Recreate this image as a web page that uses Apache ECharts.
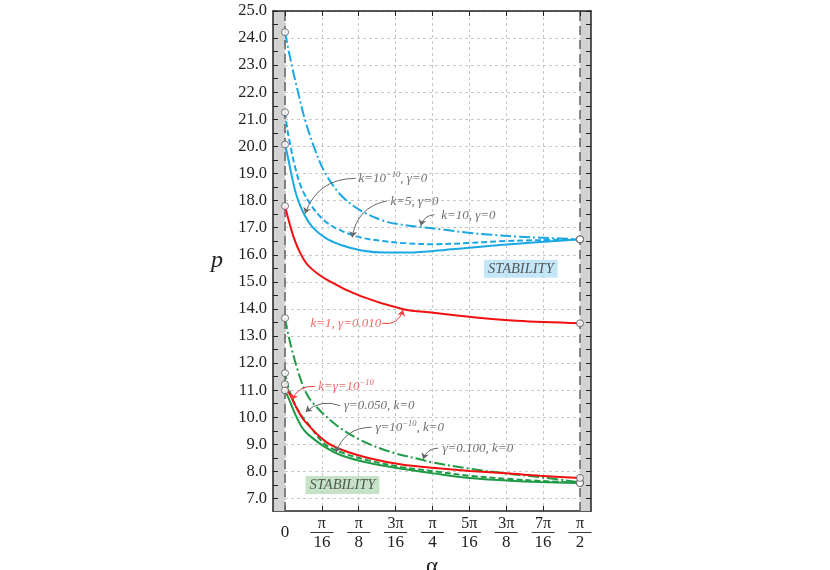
<!DOCTYPE html>
<html><head><meta charset="utf-8">
<script src="https://cdn.jsdelivr.net/npm/echarts@6/dist/echarts.min.js"></script>
<style>html,body{margin:0;padding:0;background:#fff}#c{width:830px;height:570px}</style>
</head><body><div id="c"></div>
<script>
const PI = Math.PI;
// ---------- data (alpha in radians, p values) ----------
const aCyanDD = [0, 0.031, 0.062, 0.106, 0.156, 0.213, 0.302, 0.408, 0.532, 0.63, 0.72, 0.85, 0.967, 1.1, 1.234, 1.4, PI/2];
const pCyanDD = [24.22, 23.15, 22.22, 21.0, 19.95, 19.03, 18.17, 17.61, 17.24, 17.1, 17.03, 16.92, 16.82, 16.74, 16.67, 16.62, 16.57];
const aCyanDash = [0, 0.013, 0.027, 0.053, 0.089, 0.142, 0.213, 0.302, 0.408, 0.532, 0.63, 0.79, 0.967, 1.145, 1.358, PI/2];
const pCyanDash = [21.26, 20.6, 20.1, 19.25, 18.45, 17.8, 17.24, 16.88, 16.63, 16.5, 16.43, 16.39, 16.43, 16.5, 16.54, 16.57];
const aCyanSolid = [0, 0.018, 0.036, 0.062, 0.098, 0.142, 0.213, 0.302, 0.408, 0.532, 0.63, 0.79, 0.967, 1.145, 1.358, PI/2];
const pCyanSolid = [20.07, 19.52, 18.9, 18.17, 17.55, 17.06, 16.63, 16.35, 16.16, 16.08, 16.08, 16.14, 16.25, 16.36, 16.47, 16.57];
const aRedHigh = [0, 0.018, 0.044, 0.08, 0.124, 0.222, 0.4, 0.63, 0.79, 0.967, 1.234, PI/2];
const pRedHigh = [17.8, 17.31, 16.69, 16.08, 15.6, 15.08, 14.48, 13.99, 13.86, 13.72, 13.56, 13.47];
const aGreenDD = [0, 0.027, 0.071, 0.106, 0.142, 0.266, 0.408, 0.568, 0.728, 0.772, 0.985, 1.198, 1.358, PI/2];
const pGreenDD = [13.66, 12.76, 11.66, 11.0, 10.58, 9.75, 9.14, 8.71, 8.43, 8.35, 8.1, 7.91, 7.79, 7.6];
const aGreenDash = [0, 0.018, 0.044, 0.089, 0.124, 0.213, 0.302, 0.444, 0.621, 0.799, 0.985, 1.198, 1.358, PI/2];
const pGreenDash = [11.63, 11.1, 10.6, 10.05, 9.75, 9.0, 8.7, 8.41, 8.16, 8.0, 7.84, 7.72, 7.65, 7.58];
const aRedLow = [0, 0.018, 0.036, 0.071, 0.106, 0.213, 0.302, 0.444, 0.621, 0.799, 0.985, 1.198, 1.358, PI/2];
const pRedLow = [11.22, 10.95, 10.71, 10.22, 9.85, 9.12, 8.8, 8.5, 8.26, 8.13, 8.02, 7.92, 7.84, 7.76];
const aGreenSolid = [0, 0.027, 0.053, 0.089, 0.124, 0.213, 0.302, 0.444, 0.621, 0.799, 0.985, 1.198, 1.358, PI/2];
const pGreenSolid = [11.0, 10.57, 10.13, 9.64, 9.36, 8.9, 8.59, 8.32, 8.1, 7.92, 7.76, 7.66, 7.61, 7.57];

// ---------- ticks ----------
const xTickLabels = ['0', 'π/16', 'π/8', '3π/16', 'π/4', '5π/16', '3π/8', '7π/16', 'π/2'];
const xTickValues = xTickLabels.map((_, i) => i * PI / 16);
const yLabelValues = [7,8,9,10,11,12,13,14,15,16,17,18,19,20,21,22,23,24,25];
const yTickValues = [7,7.5,8,8.5,9,9.5,10,10.5,11,11.5,12,12.5,13,13.5,14,14.5,15,15.5,16,16.5,17,17.5,18,18.5,19,19.5,20,20.5,21,21.5,22,22.5,23,23.5,24,24.5,25];

// ---------- layout / style ----------
const XMIN = -0.064, XMAX = PI/2 + 0.059, YMIN = 6.54, YMAX = 25;
const SERIF = "'Liberation Serif', 'DejaVu Serif', serif";
const CYAN = '#1aa8e4', RED = '#f20f0f', GREEN = '#1f9a47';
const DD = [11, 3, 2, 3], DASH = [6, 3];

const curves = [
  {a: aCyanDD, p: pCyanDD, c: CYAN, t: DD},
  {a: aCyanDash, p: pCyanDash, c: CYAN, t: DASH},
  {a: aCyanSolid, p: pCyanSolid, c: CYAN, t: 'solid'},
  {a: aRedHigh, p: pRedHigh, c: RED, t: 'solid'},
  {a: aGreenDD, p: pGreenDD, c: GREEN, t: DD},
  {a: aGreenDash, p: pGreenDash, c: GREEN, t: DASH},
  {a: aGreenSolid, p: pGreenSolid, c: GREEN, t: 'solid'},
  {a: aRedLow, p: pRedLow, c: RED, t: 'solid'}
];

const GRAY = '#4a4a4a', RTXT = '#f04040';
const notes = [
  {txt: '{t|k=10}{s|−10}{t|, γ=0}', col: GRAY, at: [0.389, 18.81], from: [0.376, 18.82], to: [0.1065, 17.52], cv: -0.35},
  {txt: '{t|k=5, γ=0}', col: GRAY, at: [0.559, 17.98], from: [0.543, 17.99], to: [0.358, 16.64], cv: -0.35},
  {txt: '{t|k=10, γ=0}', col: GRAY, at: [0.829, 17.46], from: [0.796, 17.48], to: [0.723, 17.07], cv: -0.35},
  {txt: '{t|k=1, γ=0.010}', col: RTXT, at: [0.133, 13.47], from: [0.518, 13.47], to: [0.628, 13.96], cv: -0.45},
  {txt: '{t|k=γ=10}{s|−10}', col: RTXT, at: [0.174, 11.14], from: [0.16, 11.14], to: [0.036, 10.64], cv: -0.35},
  {txt: '{t|γ=0.050, k=0}', col: GRAY, at: [0.311, 10.43], from: [0.293, 10.43], to: [0.11, 10.2], cv: -0.3},
  {txt: '{t|γ=10}{s|−10}{t|, k=0}', col: GRAY, at: [0.479, 9.63], from: [0.461, 9.63], to: [0.272, 8.71], cv: -0.35},
  {txt: '{t|γ=0.100, k=0}', col: GRAY, at: [0.836, 8.86], from: [0.815, 8.86], to: [0.736, 8.45], cv: -0.35}
];
const boxes = [
  {txt: 'STABILITY', bg: '#b6e0f5', at: [1.256, 15.48]},
  {txt: 'STABILITY', bg: '#b8dcb9', at: [0.306, 7.5]}
];

const chart = echarts.init(document.getElementById('c'), null, {renderer: 'canvas'});

const series = [];
// background bands and dashed boundary lines
series.push({
  type: 'line', data: [], z: 1, silent: true,
  markArea: {silent: true, itemStyle: {color: '#d2d2d2'},
    data: [[{xAxis: XMIN}, {xAxis: 0}], [{xAxis: PI/2}, {xAxis: XMAX}]]},
  markLine: {silent: true, symbol: ['none', 'none'], label: {show: false},
    lineStyle: {color: '#6a6a6a', type: [9, 5], width: 1.6},
    data: [{xAxis: 0}, {xAxis: PI/2}]}
});
curves.forEach(cv => {
  series.push({
    type: 'line', z: 3, smooth: 0.35, symbol: 'none', silent: true,
    data: cv.a.map((a, i) => [a, cv.p[i]]),
    lineStyle: {color: cv.c, width: 2, type: cv.t}
  });
});
// end markers
const ends = [];
curves.forEach(cv => { ends.push([cv.a[0], cv.p[0]]); ends.push([cv.a[cv.a.length-1], cv.p[cv.p.length-1]]); });
series.push({
  type: 'scatter', z: 5, silent: true, symbol: 'circle', symbolSize: 7,
  itemStyle: {color: '#fff', borderColor: '#555', borderWidth: 1},
  data: ends
});
// annotations
const richT = {
  t: {fontFamily: SERIF, fontStyle: 'italic', fontSize: 13, lineHeight: 16},
  s: {fontFamily: SERIF, fontStyle: 'italic', fontSize: 8.5, lineHeight: 9, verticalAlign: 'top'}
};
series.push({
  type: 'scatter', z: 6, silent: true, symbolSize: 1, itemStyle: {color: 'rgba(0,0,0,0)'},
  data: notes.map(n => ({value: n.at, label: {show: true, position: 'right', distance: 0,
      formatter: n.txt, color: n.col, rich: richT}}))
});
// curved arrows
series.push({
  type: 'lines', coordinateSystem: 'cartesian2d', z: 6, silent: true,
  symbol: ['none', 'arrow'], symbolSize: 6,
  data: notes.map(n => ({coords: [n.from, n.to],
    lineStyle: {color: n.col === GRAY ? '#666' : RTXT, width: 1, type: 'solid', curveness: n.cv}})),
  lineStyle: {width: 1, curveness: -0.35, opacity: 1}
});
series.push({
  type: 'scatter', z: 6, silent: true, symbolSize: 1, itemStyle: {color: 'rgba(0,0,0,0)'},
  data: boxes.map(b => ({value: b.at, label: {show: true, position: 'inside',
      formatter: b.txt, color: '#333', fontFamily: SERIF, fontStyle: 'italic', fontSize: 14.5,
      backgroundColor: b.bg, padding: [2, 4, 1, 4]}}))
});

const axisLine = {show: true, onZero: false, lineStyle: {color: '#222', width: 1.5}};
const tickStyle = {color: '#222', width: 1};

function xFmt(v) {
  const k = Math.round(v / (PI / 16));
  const lab = xTickLabels[k];
  if (lab === undefined) return '';
  if (lab.indexOf('/') < 0) return '{n| }\n{z|' + lab + '}\n{d| }';
  const parts = lab.split('/');
  return '{n|' + parts[0] + '}\n{b| }\n{d|' + parts[1] + '}';
}

chart.setOption({
  animation: false,
  backgroundColor: '#fff',
  grid: {left: 273, right: 239, top: 11, bottom: 59, containLabel: false, outerBoundsMode: 'none'},
  xAxis: [
    {type: 'value', position: 'bottom', min: XMIN, max: XMAX, axisLine: axisLine,
     axisTick: {show: true, inside: true, length: 5, customValues: xTickValues, lineStyle: tickStyle},
     axisLabel: {show: true, customValues: xTickValues, margin: 5, formatter: xFmt, color: '#222',
       rich: {
         n: {fontFamily: SERIF, fontSize: 16, lineHeight: 15, align: 'center', color: '#222'},
         b: {fontSize: 1, lineHeight: 3, height: 1, width: 23, backgroundColor: '#333', align: 'center'},
         d: {fontFamily: SERIF, fontSize: 17, lineHeight: 17, align: 'center', color: '#222'},
         z: {fontFamily: SERIF, fontSize: 17, lineHeight: 3, align: 'center', color: '#222'}
       }},
     splitLine: {show: true, lineStyle: {color: '#c9c9c9', type: [3, 3], width: 1}},
     name: 'α', nameLocation: 'middle', nameGap: 35,
     nameTextStyle: {fontFamily: SERIF, fontSize: 23, color: '#222'}},
    {type: 'value', position: 'top', min: XMIN, max: XMAX, axisLine: axisLine, z: 10,
     axisTick: {show: true, inside: true, length: 5, customValues: xTickValues, lineStyle: tickStyle},
     axisLabel: {show: false}, splitLine: {show: false}}
  ],
  yAxis: [
    {type: 'value', position: 'left', min: YMIN, max: YMAX, axisLine: axisLine, z: 10,
     axisTick: {show: true, inside: true, length: 5, customValues: yTickValues, lineStyle: tickStyle},
     axisLabel: {show: true, customValues: yLabelValues, margin: 6, formatter: v => v.toFixed(1),
       fontFamily: SERIF, fontSize: 16.5, color: '#222'},
     splitLine: {show: false},
     name: 'p', nameLocation: 'middle', nameRotate: 0, nameGap: 50,
     nameTextStyle: {fontFamily: SERIF, fontStyle: 'italic', fontSize: 24, color: '#222', padding: [12, 0, 0, 0]}},
    {type: 'value', position: 'right', min: YMIN, max: YMAX, axisLine: axisLine, z: 10,
     axisTick: {show: true, inside: true, length: 5, customValues: yTickValues, lineStyle: tickStyle},
     axisLabel: {show: false}, splitLine: {show: false}},
    {type: 'value', position: 'left', min: YMIN, max: YMAX, axisLine: {show: false},
     axisTick: {show: false, customValues: yLabelValues},
     axisLabel: {show: false},
     splitLine: {show: true, lineStyle: {color: '#c9c9c9', type: [3, 3], width: 1}}}
  ],
  series: series
});
</script>
</body></html>
